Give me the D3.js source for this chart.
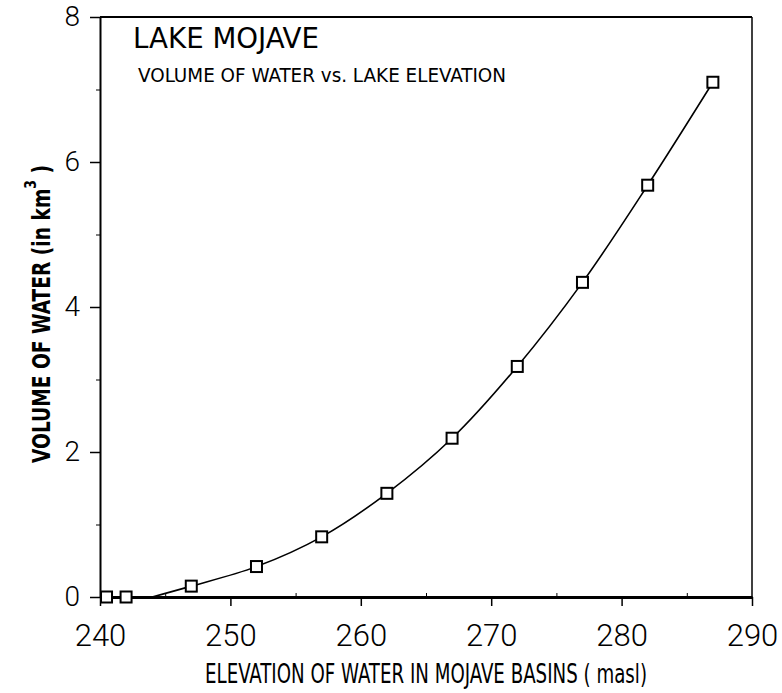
<!DOCTYPE html>
<html>
<head>
<meta charset="utf-8">
<script src="https://cdn.jsdelivr.net/npm/d3@7"></script>
<style>
  body { margin: 0; background: #fff; }
</style>
</head>
<body>
<div id="chart"></div>
<script>
// measured points (elevation in masl, volume in km3)
var elevation = [240.5, 242, 247, 252, 257, 262, 267, 272, 277, 282, 287];
var volume = [0, 0, 0.15, 0.42, 0.83, 1.43, 2.19, 3.18, 4.34, 5.68, 7.1];

// the fitted curve drawn through the points
var curveElevation = [244, 247, 252, 257, 262, 267, 272, 277, 282, 287];
var curveVolume = [0, 0.15, 0.42, 0.83, 1.43, 2.19, 3.18, 4.34, 5.68, 7.1];

var xTicks = [240, 250, 260, 270, 280, 290];
var yTicks = [0, 2, 4, 6, 8];

var W = 782, H = 693;
var margin = { top: 17, right: 30, bottom: 96, left: 100 },
    width = W - margin.left - margin.right,
    height = H - margin.top - margin.bottom;

var x = d3.scaleLinear().domain([240, 290]).range([0, width]);
var y = d3.scaleLinear().domain([0, 8]).range([height, 0]);

var svg = d3.select('#chart').append('svg')
    .attr("width", W)
    .attr("height", H)
    .append("g")
    .attr("transform", "translate(" + margin.left + "," + margin.top + ")");

var tickFont = "Roboto, 'DejaVu Sans', sans-serif";
var labelFont = "'Liberation Sans Narrow', 'DejaVu Sans Condensed', sans-serif";

// frame: top and right
svg.append("line").attr("x1", 0).attr("x2", width).attr("y1", 0).attr("y2", 0)
    .attr("stroke", "#000").attr("stroke-width", 2);
svg.append("line").attr("x1", width).attr("x2", width).attr("y1", 0).attr("y2", height)
    .attr("stroke", "#000").attr("stroke-width", 1.5);

// x axis
var xAxis = svg.append("g")
    .attr("transform", "translate(0," + height + ")")
    .call(d3.axisBottom(x).tickValues(xTicks).tickSize(9).tickSizeOuter(0).tickPadding(18));
xAxis.select(".domain").attr("stroke-width", 3);
xAxis.selectAll(".tick line").attr("stroke-width", 1.5);
xAxis.selectAll("text").attr("font-family", tickFont).attr("font-weight", 300)
    .attr("font-size", "31px").attr("fill", "#000");
svg.append("g")
    .attr("transform", "translate(0," + height + ")")
    .call(d3.axisTop(x).tickValues(d3.range(245, 290, 10)).tickSize(4).tickFormat(""))
    .select(".domain").remove();

// y axis
var yAxis = svg.append("g")
    .call(d3.axisLeft(y).tickValues(yTicks).tickSize(10).tickSizeOuter(0).tickPadding(10));
yAxis.select(".domain").attr("stroke-width", 2);
yAxis.selectAll(".tick line").attr("stroke-width", 1.5);
yAxis.selectAll("text").attr("font-family", tickFont).attr("font-weight", 300)
    .attr("font-size", "28px").attr("fill", "#000");
svg.append("g")
    .call(d3.axisLeft(y).tickValues([1, 3, 5, 7]).tickSize(4).tickFormat(""))
    .select(".domain").remove();

// curve
var line = d3.line()
    .x(function(d) { return x(d[0]); })
    .y(function(d) { return y(d[1]); })
    .curve(d3.curveCatmullRom);

svg.append("path")
    .datum(d3.zip(curveElevation, curveVolume))
    .attr("d", line)
    .attr("fill", "none")
    .attr("stroke", "#000")
    .attr("stroke-width", 1.6);

// square markers
var s = 11;
svg.selectAll("rect.pt")
    .data(d3.zip(elevation, volume))
    .enter().append("rect")
    .attr("class", "pt")
    .attr("x", function(d) { return x(d[0]) - s / 2; })
    .attr("y", function(d) { return y(d[1]) - s / 2; })
    .attr("width", s)
    .attr("height", s)
    .attr("fill", "#fff")
    .attr("stroke", "#000")
    .attr("stroke-width", 2);

// titles
svg.append("text")
    .attr("x", 33).attr("y", 31)
    .attr("font-family", labelFont)
    .attr("font-size", "29px")
    .attr("font-weight", 500)
    .attr("textLength", 186).attr("lengthAdjust", "spacingAndGlyphs")
    .text("LAKE MOJAVE");

svg.append("text")
    .attr("x", 38).attr("y", 65)
    .attr("font-family", labelFont)
    .attr("font-size", "19px")
    .attr("textLength", 368).attr("lengthAdjust", "spacingAndGlyphs")
    .text("VOLUME OF WATER vs. LAKE ELEVATION");

// x axis title
svg.append("text")
    .attr("x", 105).attr("y", 683 - margin.top)
    .attr("font-family", labelFont)
    .attr("font-size", "26px")
    .attr("textLength", 442).attr("lengthAdjust", "spacingAndGlyphs")
    .text("ELEVATION OF WATER IN MOJAVE BASINS ( masl)");

// y axis title
var yTitle = svg.append("text")
    .attr("transform", "translate(-50," + (463 - margin.top) + ") rotate(-90)")
    .attr("font-family", labelFont)
    .attr("font-size", "24px")
    .attr("font-weight", "bold")
    .attr("textLength", 298).attr("lengthAdjust", "spacingAndGlyphs");
yTitle.append("tspan").text("VOLUME OF WATER (in km");
yTitle.append("tspan").attr("dy", -14).attr("font-size", "16px").text("3");
yTitle.append("tspan").attr("dy", 14).text(" )");
</script>
</body>
</html>
